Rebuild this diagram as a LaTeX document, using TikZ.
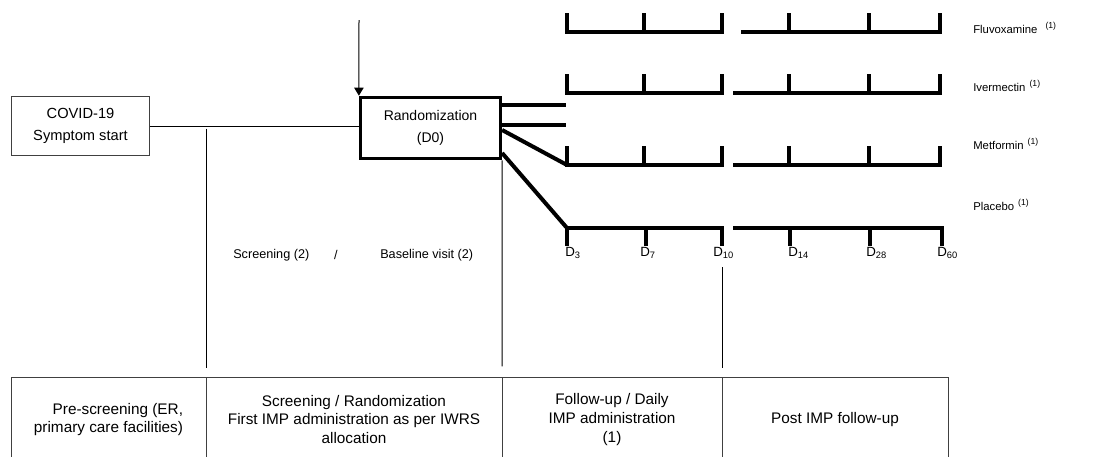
\documentclass[tikz,border=0pt]{standalone}
\usepackage{fontspec}
\setmainfont{Liberation Sans}
\usetikzlibrary{positioning, arrows.meta}

\tikzset{
  start box/.style={draw=black!75, line width=0.8pt, minimum width=104pt, minimum height=44pt,
    align=center, font=\fontsize{11}{16}\selectfont},
  rand box/.style={draw, line width=2.4pt, minimum width=105pt, minimum height=46pt,
    align=center, font=\fontsize{10.5}{16}\selectfont},
  track/.style={line width=3pt, line join=miter},
  thin line/.style={line width=0.75pt},
  phase cell/.style={draw=black!75, line width=0.7pt, minimum height=63.75pt, outer sep=0pt,
    anchor=north west, align=center, font=\fontsize{11.5}{14}\selectfont},
  arm label/.style={anchor=west, inner sep=0pt, font=\fontsize{8.5}{10}\selectfont},
  day label/.style={anchor=west, inner sep=0pt, font=\fontsize{10}{12}\selectfont},
  visit label/.style={inner sep=0pt, font=\fontsize{9.5}{11}\selectfont},
}
\newcommand{\armnote}{\raisebox{0.45em}{\fontsize{6.5}{7}\selectfont(1)}}

\begin{document}
\begin{tikzpicture}[x=0.75pt, y=-0.75pt]
\useasboundingbox (0,0) rectangle (1093,457);

% start and randomization
\node[start box] (covid) at (80.5,126) {COVID-19\\Symptom start};
\node[rand box] (rand) at (430.5,128) {Randomization\\(D0)};
\coordinate (arrowTop) at (359,20);
\draw[thin line, -{Triangle[width=7pt,length=6pt]}] (arrowTop) -- (rand.north west);
\draw[thin line] (covid.east) -- (covid.east -| rand.west);

% arms
\foreach \arm/\y/\gap in {flu/32/741, iver/93/733, met/165/733} {
  \coordinate (\arm3) at (567,\y);
  \draw[track] (567,\y-19) -- (\arm3) -- (722,\y) -- (722,\y-19);
  \draw[track] (644,\y) -- (644,\y-19);
  \draw[track] (\gap,\y) -- (940,\y) -- (940,\y-19);
  \draw[track] (789,\y) -- (789,\y-19);
  \draw[track] (869,\y) -- (869,\y-19);
}
\coordinate (plc3) at (567,228);
\draw[track] (567,246) -- (plc3) -- (722,228) -- (722,246);
\draw[track] (646,228) -- (646,246);
\draw[track] (733,228) -- (942,228) -- (942,246);
\draw[track] (790,228) -- (790,246);
\draw[track] (870,228) -- (870,246);
\coordinate (p10) at (722,246);

% branches out of the randomization box
\coordinate (fluStub) at (566,105);
\coordinate (iverStub) at (566,125);
\draw[track] (fluStub -| rand.east) -- (fluStub);
\draw[track] (iverStub -| rand.east) -- (iverStub);
\draw[track] ([yshift=-1.5pt]rand.east) -- (met3);
\draw[track] ([yshift=-18.75pt]rand.east) -- (plc3);

\node[arm label] (fluLbl) at (973,28) {Fluvoxamine\hspace{6pt}\armnote};
\node[arm label] (iverLbl) at (973,86) {Ivermectin\hspace{3pt}\armnote};
\node[arm label] (metLbl) at (973,144) {Metformin\hspace{3pt}\armnote};
\node[arm label] (plcLbl) at (973,205) {Placebo\hspace{3pt}\armnote};

\foreach \x/\d in {565/3, 640/7, 713/10, 788/14, 866/28, 937/60}
  \node[day label] (d\d) at (\x,253) {D\textsubscript{\d}};

\node[visit label, anchor=west] (scr) at (233,255) {Screening (2)};
\node[visit label] (slash) at (336,255) {/};
\node[visit label, anchor=west] (base) at (380,255) {Baseline visit (2)};

% phases
\node[phase cell, minimum width=146.25pt, align=right] (c1) at (11,377)
  {Pre-screening (ER,\\primary care facilities)};
\node[phase cell, minimum width=222pt] (c2) at (c1.north east)
  {Screening / Randomization\\First IMP administration as per IWRS\\allocation};
\node[phase cell, minimum width=165pt] (c3) at (c2.north east)
  {Follow-up / Daily\\IMP administration\\(1)};
\node[phase cell, minimum width=169.5pt] (c4) at (c3.north east) {Post IMP follow-up};

\draw[thin line] ([yshift=-2pt]c1.north east |- covid.east) -- ([yshift=7pt]c1.north east);
\draw[thin line] (rand.south east) -- ([yshift=8pt]c2.north east);
\draw[thin line] ([yshift=-16pt]p10) -- ([yshift=7pt]c3.north east);

\end{tikzpicture}
\end{document}
